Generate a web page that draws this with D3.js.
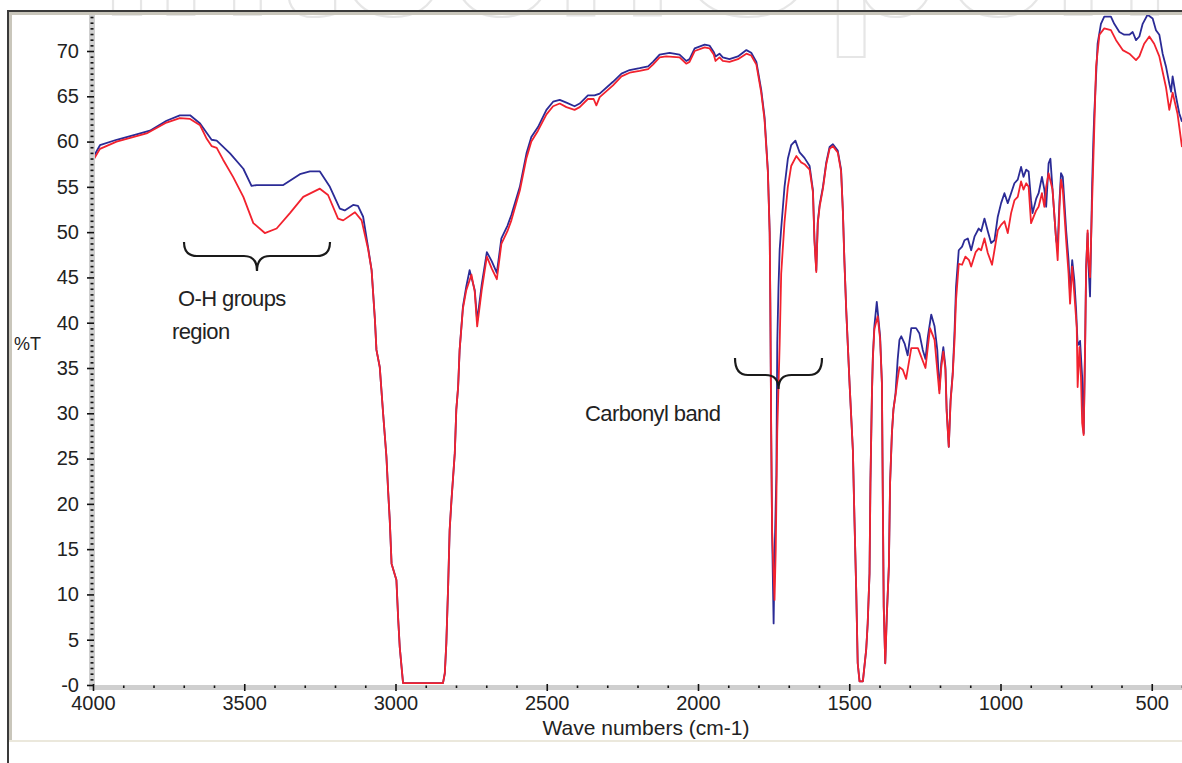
<!DOCTYPE html>
<html>
<head>
<meta charset="utf-8">
<script src="https://cdn.jsdelivr.net/npm/d3@7"></script>
<style>
  body { margin: 0; background: #fff; }
  svg { display: block; font-family: "Liberation Sans", Arial, sans-serif; }
</style>
</head>
<body>
<svg id="chart"></svg>
<script>
const width = 1182, height = 763;

// tick values
const xTicks = [4000, 3500, 3000, 2500, 2000, 1500, 1000, 500];
const yTicks = [0, 5, 10, 15, 20, 25, 30, 35, 40, 45, 50, 55, 60, 65, 70];

// spectra: [wave number, %T]
const blueSpectrum = [
  [4000, 58.2], [3977, 59.6], [3922, 60.2], [3856, 60.8], [3812, 61.2], [3757, 62.3], [3713, 62.9],
  [3679, 62.9], [3646, 62.0], [3608, 60.2], [3591, 60.1], [3547, 58.7], [3503, 57.0], [3476, 55.1],
  [3459, 55.2], [3371, 55.2], [3316, 56.4], [3283, 56.7], [3250, 56.7], [3217, 55.0], [3184, 52.6],
  [3168, 52.4], [3140, 53.0], [3124, 52.9], [3107, 51.7], [3091, 48.4], [3079, 45.8], [3068, 40.3],
  [3063, 37.0], [3052, 35.1], [3041, 30.0], [3030, 25.2], [3024, 21.2], [3019, 18.2], [3013, 13.4],
  [2997, 11.6], [2991, 7.2], [2986, 4.2], [2980, 2.0], [2975, 0.2], [2843, 0.2], [2837, 1.3],
  [2832, 4.6], [2826, 10.9], [2821, 17.1], [2815, 20.4], [2804, 25.6], [2799, 30.4], [2793, 32.9],
  [2788, 37.0], [2777, 41.8], [2766, 44.0], [2755, 45.8], [2738, 43.6], [2730, 40.2], [2715, 44.2],
  [2698, 47.8], [2682, 46.8], [2665, 45.5], [2650, 49.3], [2630, 50.7], [2617, 51.9], [2589, 55.0],
  [2567, 58.7], [2551, 60.5], [2529, 61.6], [2501, 63.5], [2479, 64.4], [2457, 64.6], [2435, 64.3],
  [2408, 63.9], [2391, 64.2], [2364, 65.1], [2342, 65.1], [2325, 65.3], [2281, 66.6], [2253, 67.5],
  [2226, 67.9], [2193, 68.1], [2165, 68.3], [2149, 68.8], [2127, 69.6], [2094, 69.8], [2061, 69.6],
  [2039, 68.9], [2028, 69.1], [2011, 70.3], [1978, 70.7], [1962, 70.6], [1948, 69.9], [1942, 69.4],
  [1929, 69.7], [1918, 69.3], [1896, 69.1], [1868, 69.4], [1840, 70.1], [1824, 69.8], [1807, 68.8],
  [1791, 65.7], [1780, 62.7], [1769, 56.8], [1763, 50.0], [1761, 42.5], [1758, 27.8], [1755, 16.8],
  [1750, 6.8], [1747, 14.0], [1741, 23.1], [1738, 37.7], [1734, 43.8], [1730, 48.1], [1725, 50.4],
  [1714, 55.0], [1703, 58.1], [1692, 59.6], [1678, 60.1], [1664, 58.8], [1648, 58.2], [1631, 57.3],
  [1620, 54.6], [1615, 49.2], [1609, 45.8], [1604, 51.1], [1598, 53.0], [1587, 55.0], [1576, 57.7],
  [1565, 59.4], [1554, 59.7], [1538, 59.0], [1527, 56.9], [1521, 52.3], [1516, 46.9], [1510, 41.4],
  [1499, 33.3], [1488, 25.9], [1483, 18.6], [1477, 10.5], [1472, 2.4], [1466, 0.4], [1455, 0.4],
  [1444, 3.9], [1439, 6.8], [1433, 12.3], [1430, 22.3], [1425, 32.2], [1422, 36.2], [1417, 39.6],
  [1409, 42.3], [1398, 38.5], [1392, 33.3], [1389, 20.4], [1386, 8.6], [1381, 2.4], [1376, 7.5],
  [1369, 13.1], [1365, 22.3], [1359, 27.8], [1354, 30.4], [1347, 32.2], [1340, 35.9], [1334, 38.1],
  [1328, 38.5], [1317, 37.7], [1307, 36.4], [1295, 39.4], [1279, 39.4], [1268, 38.8], [1257, 37.0],
  [1248, 36.0], [1240, 38.5], [1229, 40.9], [1218, 39.6], [1209, 37.0], [1202, 32.6], [1196, 35.5],
  [1189, 37.3], [1182, 35.1], [1178, 30.4], [1171, 26.3], [1165, 31.5], [1158, 34.4], [1152, 39.0],
  [1147, 44.0], [1138, 48.0], [1127, 48.4], [1119, 49.1], [1108, 49.3], [1097, 48.0], [1086, 49.5],
  [1072, 50.4], [1064, 50.1], [1053, 51.5], [1042, 50.1], [1031, 48.8], [1020, 49.1], [1009, 51.7],
  [998, 53.2], [987, 54.3], [976, 53.2], [965, 54.3], [954, 55.4], [943, 55.8], [932, 57.2],
  [924, 56.1], [915, 56.9], [907, 56.7], [899, 53.5], [894, 52.1], [882, 53.7], [874, 54.3],
  [863, 56.1], [855, 54.7], [849, 52.8], [841, 57.6], [835, 58.1], [828, 54.7], [816, 49.1],
  [811, 48.4], [805, 53.5], [800, 56.5], [794, 56.1], [783, 50.2], [775, 46.9], [770, 43.2],
  [763, 46.9], [756, 44.7], [750, 41.4], [745, 37.5], [737, 38.0], [730, 34.0], [725, 27.8],
  [720, 38.1], [717, 46.2], [712, 49.9], [709, 46.2], [704, 42.9], [697, 55.4], [693, 60.2],
  [690, 63.1], [679, 70.8], [668, 73.0], [657, 73.8], [635, 73.8], [624, 73.0], [607, 72.1],
  [591, 71.8], [574, 71.8], [563, 72.1], [552, 71.2], [541, 71.6], [530, 73.0], [514, 74.0],
  [497, 73.6], [486, 72.3], [475, 71.8], [464, 69.7], [453, 68.3], [442, 66.4], [436, 65.5],
  [431, 67.2], [420, 65.0], [409, 63.1], [400, 62.2]
];

const redSpectrum = [
  [4000, 57.9], [3977, 59.2], [3922, 60.0], [3856, 60.6], [3823, 60.9], [3757, 62.1], [3713, 62.6],
  [3679, 62.5], [3646, 61.8], [3624, 60.3], [3608, 59.5], [3591, 59.3], [3570, 58.0], [3537, 56.1],
  [3503, 53.9], [3470, 51.0], [3432, 49.9], [3393, 50.4], [3349, 52.1], [3305, 53.9], [3250, 54.8],
  [3223, 54.1], [3190, 51.5], [3173, 51.3], [3134, 52.2], [3112, 51.3], [3091, 48.2], [3079, 45.8],
  [3068, 40.3], [3063, 37.0], [3052, 35.1], [3041, 30.0], [3030, 25.2], [3024, 21.2], [3019, 18.2],
  [3013, 13.4], [2997, 11.6], [2991, 7.2], [2986, 4.2], [2980, 2.0], [2975, 0.2], [2843, 0.2],
  [2837, 1.3], [2832, 4.6], [2826, 10.9], [2821, 17.1], [2815, 20.4], [2804, 25.6], [2799, 30.4],
  [2793, 32.9], [2788, 37.0], [2777, 41.6], [2766, 43.6], [2749, 45.3], [2738, 43.4], [2730, 39.6],
  [2715, 43.6], [2698, 47.3], [2682, 46.0], [2665, 44.8], [2650, 48.7], [2630, 50.1], [2617, 51.3],
  [2589, 54.6], [2567, 58.2], [2551, 60.0], [2529, 61.2], [2501, 63.0], [2479, 63.9], [2457, 64.2],
  [2435, 63.8], [2408, 63.5], [2391, 63.8], [2364, 64.7], [2345, 64.7], [2336, 64.0], [2325, 64.9],
  [2281, 66.2], [2253, 67.2], [2226, 67.6], [2193, 67.8], [2165, 68.0], [2149, 68.5], [2127, 69.3],
  [2105, 69.4], [2061, 69.3], [2039, 68.6], [2028, 68.8], [2011, 70.0], [1978, 70.4], [1962, 70.3],
  [1948, 69.6], [1942, 68.9], [1929, 69.3], [1918, 68.9], [1896, 68.8], [1868, 69.1], [1840, 69.7],
  [1824, 69.5], [1807, 68.5], [1791, 65.4], [1780, 62.4], [1769, 56.6], [1763, 49.8], [1761, 42.3],
  [1758, 27.8], [1755, 17.0], [1750, 12.0], [1747, 9.4], [1743, 15.0], [1738, 28.0], [1730, 37.7],
  [1725, 45.4], [1714, 51.1], [1703, 55.0], [1692, 57.3], [1675, 58.4], [1659, 57.7], [1648, 57.5],
  [1631, 56.9], [1620, 54.4], [1615, 49.0], [1609, 45.6], [1604, 51.0], [1598, 52.8], [1587, 54.8],
  [1576, 57.5], [1565, 59.2], [1554, 59.5], [1538, 58.8], [1527, 56.7], [1521, 52.2], [1516, 46.7],
  [1510, 41.4], [1499, 33.3], [1488, 25.9], [1483, 18.6], [1477, 10.5], [1472, 2.4], [1466, 0.4],
  [1455, 0.4], [1444, 3.9], [1439, 6.8], [1433, 12.3], [1430, 22.3], [1425, 32.2], [1422, 36.0],
  [1417, 39.3], [1406, 40.7], [1398, 38.2], [1392, 33.3], [1389, 20.4], [1386, 8.6], [1381, 2.4],
  [1376, 7.5], [1369, 13.1], [1365, 22.3], [1359, 27.8], [1354, 30.4], [1347, 32.0], [1340, 33.8],
  [1334, 35.1], [1323, 34.8], [1312, 33.8], [1295, 37.2], [1273, 37.2], [1248, 35.0], [1233, 39.4],
  [1218, 38.1], [1202, 32.2], [1196, 35.0], [1189, 36.8], [1182, 34.8], [1178, 30.2], [1171, 26.3],
  [1165, 31.3], [1158, 34.2], [1152, 38.0], [1147, 42.5], [1138, 46.5], [1127, 46.4], [1116, 47.3],
  [1104, 46.9], [1097, 46.2], [1082, 47.8], [1072, 48.2], [1064, 48.0], [1053, 49.3], [1042, 47.7],
  [1028, 46.4], [1020, 48.0], [1009, 50.2], [998, 50.8], [987, 51.2], [976, 49.9], [965, 52.1],
  [954, 53.5], [943, 53.9], [932, 55.6], [924, 54.7], [915, 55.4], [907, 55.0], [899, 51.0],
  [882, 52.4], [874, 52.8], [863, 54.3], [855, 52.8], [849, 55.0], [841, 56.5], [828, 54.7],
  [816, 49.1], [811, 46.9], [805, 52.8], [800, 55.8], [794, 54.7], [783, 49.1], [775, 45.4],
  [770, 42.1], [763, 46.2], [756, 43.2], [748, 39.5], [745, 32.9], [739, 37.3], [734, 34.0],
  [730, 28.9], [725, 27.6], [720, 38.1], [717, 45.8], [712, 50.2], [709, 47.0], [704, 45.0],
  [697, 53.5], [684, 68.3], [673, 71.8], [657, 72.5], [635, 72.3], [618, 71.2], [596, 70.1],
  [574, 69.7], [552, 69.0], [541, 69.4], [525, 70.8], [508, 71.6], [492, 70.8], [475, 69.4],
  [453, 66.0], [442, 63.5], [431, 65.4], [415, 63.1], [400, 59.4]
];

const svg = d3.select("#chart")
    .attr("width", width)
    .attr("height", height);

const x = d3.scaleLinear().domain([4000, 400]).range([93, 1182]);
const y = d3.scaleLinear().domain([0, 70]).range([685, 51]);

// faint watermark behind the window
svg.append("text")
    .attr("x", 100)
    .attr("y", 15)
    .attr("textLength", 1070)
    .attr("lengthAdjust", "spacingAndGlyphs")
    .style("font-size", "200px")
    .style("font-weight", "bold")
    .attr("fill", "none")
    .attr("stroke", "#e6e6e6")
    .attr("stroke-width", 2.2)
    .text("IntechOpen");

// window frame
svg.append("rect").attr("x", 7).attr("y", 10).attr("width", width).attr("height", 2).attr("fill", "#3a3a3a");
svg.append("rect").attr("x", 7).attr("y", 12).attr("width", width).attr("height", 3).attr("fill", "#c9c6bb");
svg.append("rect").attr("x", 7).attr("y", 10).attr("width", 2).attr("height", height).attr("fill", "#3a3a3a");
svg.append("rect").attr("x", 9).attr("y", 12).attr("width", 3).attr("height", 729).attr("fill", "#c9c6bb");
svg.append("rect").attr("x", 9).attr("y", 740).attr("width", width).attr("height", 2).attr("fill", "#ebe8dc");

// axis bands
svg.append("rect").attr("x", 89).attr("y", 15).attr("width", 6).attr("height", 675).attr("fill", "#cfcfcf");
svg.append("rect").attr("x", 89).attr("y", 685).attr("width", width - 89).attr("height", 5).attr("fill", "#cfcfcf");

// minor ticks
const xMinor = d3.range(4000, 399, -100).filter(d => d % 500 !== 0);
const yMinor = d3.range(0, 74, 0.625).filter(d => d % 5 !== 0);

svg.append("g")
    .attr("transform", "translate(0,685.5)")
    .call(d3.axisBottom(x).tickValues(xMinor).tickSize(2.5).tickFormat(""))
    .call(g => g.select(".domain").remove())
    .selectAll("line").attr("stroke", "#111").attr("stroke-width", 1.6);

svg.append("g")
    .attr("transform", "translate(93.5,0)")
    .call(d3.axisLeft(y).tickValues(yMinor).tickSize(3).tickFormat(""))
    .call(g => g.select(".domain").remove())
    .selectAll("line").attr("stroke", "#111").attr("stroke-width", 1.6);

// major axes
const xAxis = svg.append("g")
    .attr("transform", "translate(0,684)")
    .call(d3.axisBottom(x).tickValues(xTicks).tickSize(7).tickPadding(5).tickFormat(d3.format("d")));
xAxis.select(".domain").remove();
xAxis.selectAll("line").attr("stroke", "#111").attr("stroke-width", 1.6);
xAxis.selectAll("text").attr("fill", "#222").style("font-size", "20px")
    .style("font-family", "'Liberation Sans', Arial, sans-serif");

const yAxis = svg.append("g")
    .attr("transform", "translate(94,0)")
    .call(d3.axisLeft(y).tickValues(yTicks).tickSize(7).tickPadding(8)
        .tickFormat(d => d === 0 ? "-0" : d));
yAxis.select(".domain").remove();
yAxis.selectAll("line").attr("stroke", "#111").attr("stroke-width", 1.6);
yAxis.selectAll("text").attr("fill", "#222").style("font-size", "20px")
    .style("font-family", "'Liberation Sans', Arial, sans-serif");

// spectra
svg.append("clipPath").attr("id", "plotClip")
    .append("rect").attr("x", 95).attr("y", 15).attr("width", width - 95).attr("height", 670);

const line = d3.line()
    .x(d => x(d[0]))
    .y(d => y(d[1]));

const plot = svg.append("g").attr("clip-path", "url(#plotClip)");

plot.append("path")
    .datum(blueSpectrum)
    .attr("d", line)
    .attr("fill", "none")
    .attr("stroke", "#2b2b96")
    .attr("stroke-width", 1.8)
    .attr("stroke-linejoin", "round");

plot.append("path")
    .datum(redSpectrum)
    .attr("d", line)
    .attr("fill", "none")
    .attr("stroke", "#f2222e")
    .attr("stroke-width", 1.8)
    .attr("stroke-linejoin", "round");

// axis titles
svg.append("text")
    .attr("x", 646)
    .attr("y", 735)
    .attr("text-anchor", "middle")
    .attr("fill", "#222")
    .style("font-size", "21px")
    .text("Wave numbers (cm-1)");

svg.append("text")
    .attr("x", 14)
    .attr("y", 350)
    .attr("fill", "#222")
    .style("font-size", "18px")
    .text("%T");

// annotations
const notes = svg.append("g")
    .attr("fill", "#222")
    .style("font-size", "22px")
    .style("letter-spacing", "-0.6px");

notes.append("text").attr("x", 178).attr("y", 306).text("O-H groups");
notes.append("text").attr("x", 172).attr("y", 339).text("region");
notes.append("text").attr("x", 585).attr("y", 421).text("Carbonyl band");

// curly braces
const brace = (x0, x1, top, mid, tip) => {
    const xc = (x0 + x1) / 2, r = 13;
    return `M${x0},${top} Q${x0},${mid} ${x0 + r},${mid} L${xc - r},${mid} Q${xc},${mid} ${xc},${tip}` +
           ` Q${xc},${mid} ${xc + r},${mid} L${x1 - r},${mid} Q${x1},${mid} ${x1},${top}`;
};

svg.append("path")
    .attr("d", brace(184, 330, 242, 256, 271))
    .attr("fill", "none")
    .attr("stroke", "#1a1a1a")
    .attr("stroke-width", 2.2);

svg.append("path")
    .attr("d", brace(735, 822, 358, 375, 389))
    .attr("fill", "none")
    .attr("stroke", "#1a1a1a")
    .attr("stroke-width", 2.2);
</script>
</body>
</html>
